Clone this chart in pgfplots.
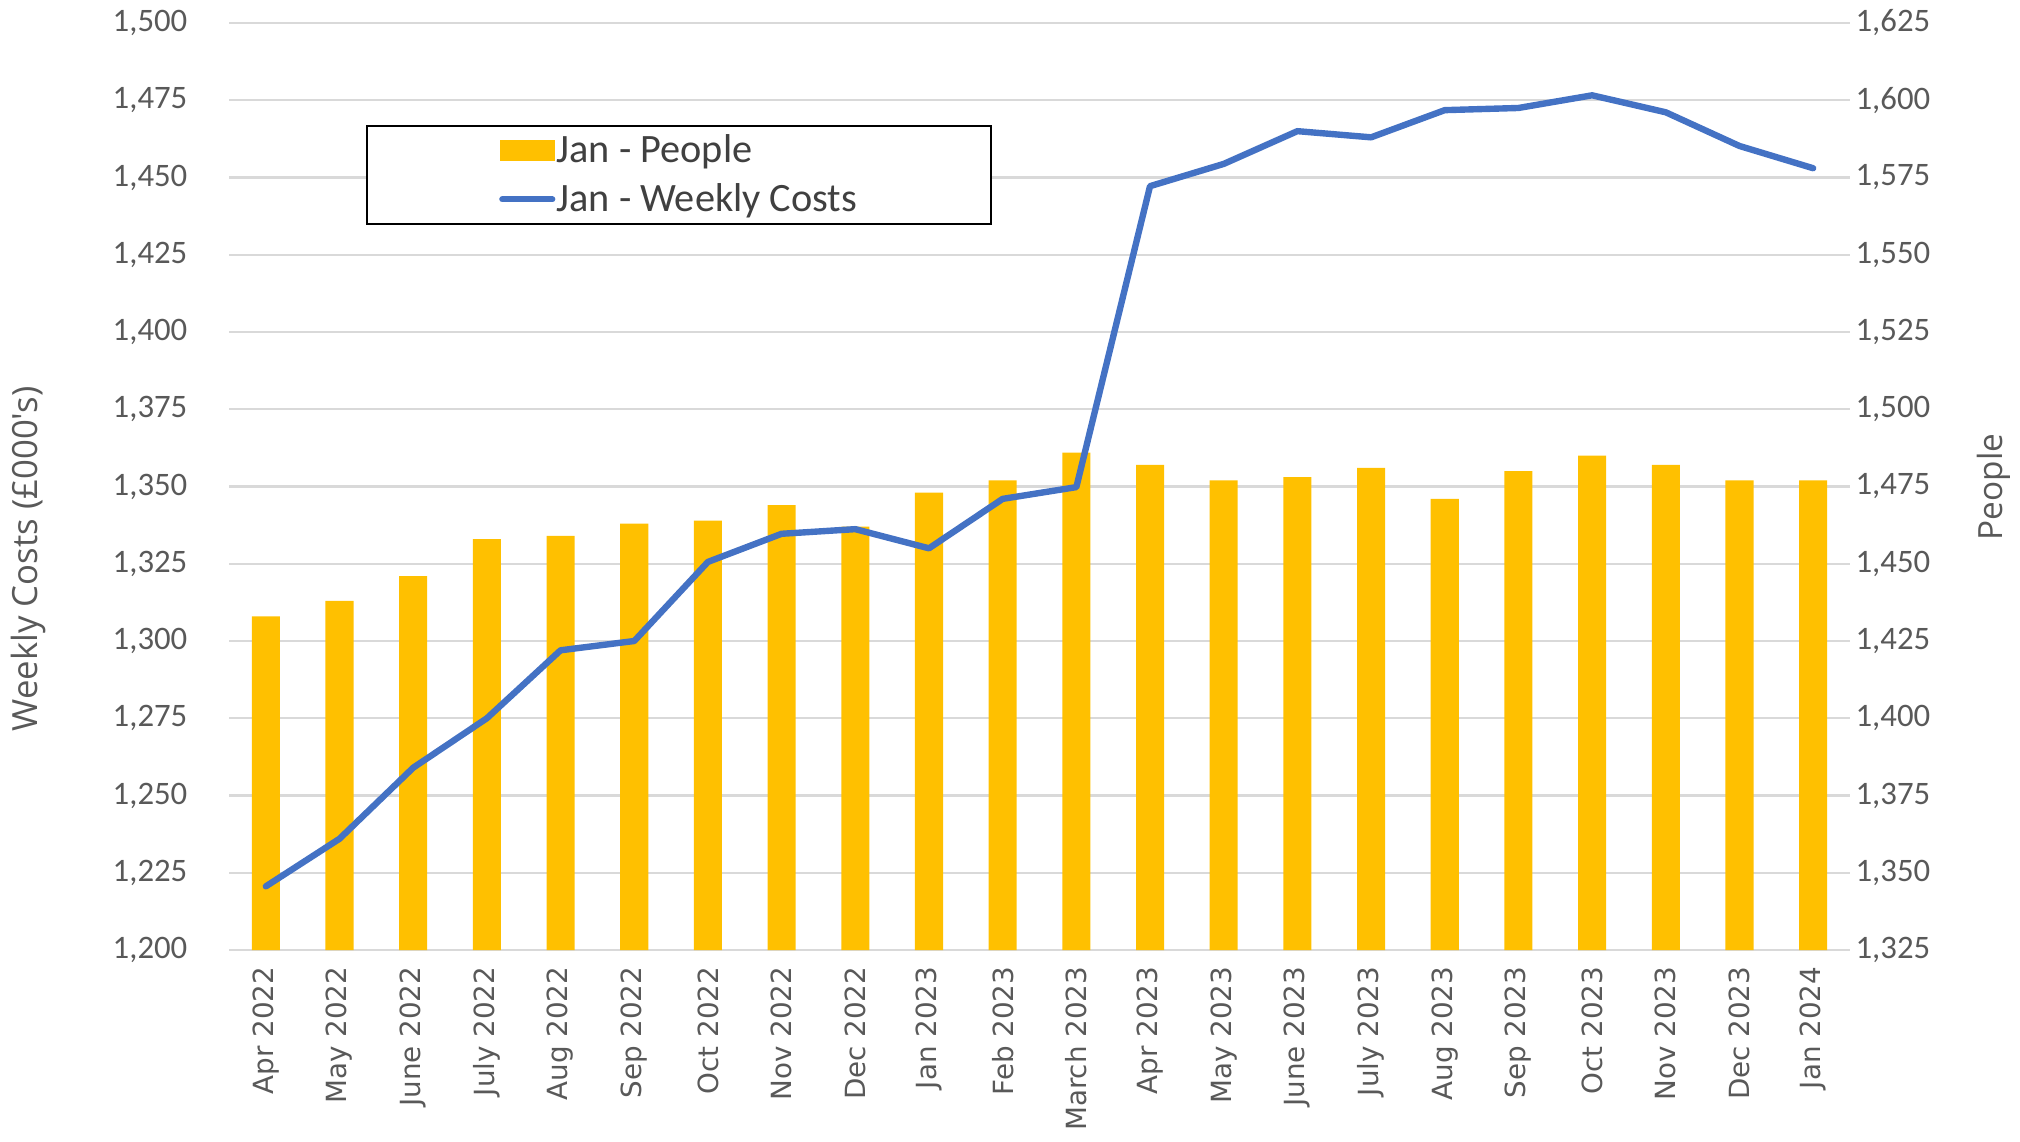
\documentclass[border=0pt]{standalone}
\usepackage{fontspec}
\setmainfont{Carlito}
\newfontfamily\dejavu{DejaVu Sans}
\newfontfamily\opensans{Open Sans}
\usepackage{pgfplots}
\pgfplotsset{compat=1.18}
\definecolor{barcol}{HTML}{FFC000}
\definecolor{linecol}{HTML}{4472C4}
\definecolor{gridcol}{HTML}{D9D9D9}
\definecolor{txtcol}{HTML}{595959}
\definecolor{legtxt}{HTML}{404040}
\begin{document}
\begin{tikzpicture}
\useasboundingbox (-82.44pt,-68.76pt) rectangle (644.76pt,342pt);
\pgfplotsset{
  common/.style={
    scale only axis,
    width=583.56pt, height=333.72pt,
    xmin=-0.5, xmax=21.5,
    axis line style={draw=none},
    major tick length=0pt,
    scaled y ticks=false,
    /pgf/number format/.cd, 1000 sep={,}, assume math mode=true,
  },
}
\begin{axis}[common,
  ymin=1325, ymax=1625,
  ytick={1325,1350,...,1625},
  axis y line*=right,
  axis x line*=bottom,
  ymajorgrids,
  grid style={gridcol, line width=0.75pt},
  yticklabel style={font=\fontsize{11.8}{13}\selectfont, text=txtcol, inner sep=0pt},
  yticklabel shift=1.8pt,
  xtick={0,...,21},
  xticklabels={Apr 2022,May 2022,June 2022,July 2022,Aug 2022,Sep 2022,Oct 2022,Nov 2022,Dec 2022,Jan 2023,Feb 2023,March 2023,Apr 2023,May 2023,June 2023,July 2023,Aug 2023,Sep 2023,Oct 2023,Nov 2023,Dec 2023,Jan 2024},
  xticklabel style={font=\dejavu\fontsize{10}{11}\selectfont, text=txtcol, rotate=90, anchor=east, inner sep=0pt},
  xticklabel shift=5.8pt,
  ybar, bar width=10.1pt,
]
\addplot[fill=barcol, draw=none] coordinates {
(0,1433) (1,1438) (2,1446) (3,1458) (4,1459) (5,1463) (6,1464) (7,1469)
(8,1462) (9,1473) (10,1477) (11,1486) (12,1482) (13,1477) (14,1478)
(15,1481) (16,1471) (17,1480) (18,1485) (19,1482) (20,1477) (21,1477)};
\end{axis}
\begin{axis}[common,
  ymin=1200, ymax=1500,
  ytick={1200,1225,...,1500},
  axis y line*=left,
  axis x line=none,
  clip mode=individual,
  yticklabel style={font=\fontsize{11.8}{13}\selectfont, text=txtcol, inner sep=0pt},
  yticklabel shift=14.8pt,
  legend style={at={(rel axis cs:0.0845,0.89)}, anchor=north west,
    draw=black, line width=0.8pt, minimum width=224.5pt, minimum height=35.2pt,
    font=\fontsize{14.5}{17}\selectfont, text=legtxt, row sep=5pt,
    inner sep=2pt,
    nodes={minimum width=0pt, minimum height=0pt, inner sep=0.5pt, line width=0pt}},
  legend cell align=left,
]
\addlegendimage{legend image code/.code={\fill[barcol] (0pt,-3.5pt) rectangle (19pt,3.5pt);}}
\addlegendentry{Jan - People}
\addlegendimage{legend image code/.code={\draw[linecol, line width=2.2pt, line cap=round] (0.5pt,0pt) -- (18.5pt,0pt);}}
\addlegendentry{Jan - Weekly Costs}
\addplot[linecol, line width=2.3pt, line join=round, line cap=round, mark=none, forget plot] coordinates {
(0,1220.6) (1,1236) (2,1259) (3,1275) (4,1297) (5,1300) (6,1325.6) (7,1334.7)
(8,1336.2) (9,1330) (10,1346) (11,1349.8) (12,1447.2) (13,1454.4) (14,1465)
(15,1463) (16,1471.8) (17,1472.5) (18,1476.6) (19,1471.1) (20,1460.2) (21,1453)};
\node[rotate=90, font=\opensans\fontsize{12.5}{14}\selectfont, text=txtcol] at (rel axis cs:-0.124,0.422) {Weekly Costs (£000's)};
\node[rotate=90, font=\opensans\fontsize{12}{14}\selectfont, text=txtcol] at (rel axis cs:1.0888,0.4995) {People};
\end{axis}
\end{tikzpicture}
\end{document}
